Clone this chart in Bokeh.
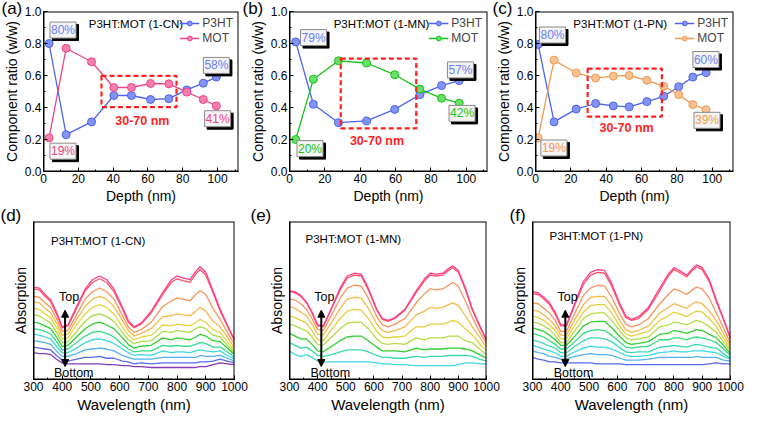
from bokeh.plotting import figure
from bokeh.layouts import column, row
from bokeh.models import (Label, BoxAnnotation, Arrow, NormalHead,
                          SingleIntervalTicker, FixedTicker, PrintfTickFormatter)
from bokeh.embed import file_html
from bokeh.resources import INLINE

FONT = "Liberation Sans"

# ---------------- composition profiles (a)-(c) ----------------
a_depth = [3.2, 13, 27.6, 40.4, 50.5, 61.5, 72, 82.3, 91.8, 99.3]
a_p3ht = [0.80, 0.23, 0.31, 0.475, 0.475, 0.45, 0.455, 0.51, 0.552, 0.59]
a_mot = [0.21, 0.77, 0.686, 0.525, 0.525, 0.55, 0.548, 0.496, 0.45, 0.41]

b_depth = [3.5, 13.5, 27.7, 43.6, 59.5, 73.7, 86, 96]
b_p3ht = [0.81, 0.42, 0.305, 0.316, 0.388, 0.48, 0.537, 0.568]
b_mot = [0.20, 0.577, 0.692, 0.678, 0.605, 0.515, 0.458, 0.427]

c_depth = [1.5, 10.5, 23, 34, 44, 53, 63, 72.5, 81, 89, 96.5]
c_p3ht = [0.794, 0.31, 0.39, 0.425, 0.41, 0.404, 0.437, 0.47, 0.53, 0.59, 0.618]
c_mot = [0.21, 0.696, 0.616, 0.584, 0.596, 0.60, 0.57, 0.533, 0.48, 0.418, 0.386]

series_names = ["P3HT", "MOT"]
titles = ["P3HT:MOT (1-CN)", "P3HT:MOT (1-MN)", "P3HT:MOT (1-PN)"]
window_text = "30-70 nm"

# ---------------- absorption spectra (d)-(f), top layer -> bottom layer ----------------
wl = [300, 320, 340, 360, 380, 400, 420, 450, 480, 505, 530, 555, 580, 610, 630,
      650, 675, 710, 750, 780, 800, 820, 845, 865, 880, 900, 925, 950, 975, 1000]

d1 = [100, 99, 92, 86, 73, 57, 59, 79, 98, 108, 112, 108, 98, 78, 64, 57, 61, 74, 94, 108, 112, 110, 108, 117, 122, 116, 96, 76, 59, 43]
d2 = [98, 97, 90, 84, 71, 56, 58, 77, 96, 105, 109, 105, 95, 76, 62, 56, 60, 72, 92, 105, 109, 107, 105, 114, 119, 113, 94, 74, 58, 42]
d3 = [90, 89, 83, 78, 66, 52, 53, 70, 87, 95, 99, 95, 87, 69, 57, 51, 54, 62, 79, 85, 88, 87, 85, 92, 96, 92, 77, 65, 51, 38]
d4 = [84, 83, 77, 72, 61, 48, 49, 65, 79, 87, 90, 87, 79, 64, 53, 47, 50, 55, 68, 69, 71, 70, 69, 74, 78, 74, 63, 57, 46, 34]
d5 = [77, 76, 71, 67, 56, 44, 45, 59, 71, 78, 81, 78, 71, 57, 48, 43, 46, 48, 59, 58, 60, 59, 58, 62, 65, 62, 54, 51, 41, 31]
d6 = [70, 69, 65, 61, 51, 40, 41, 52, 63, 69, 71, 68, 63, 51, 43, 39, 41, 42, 52, 51, 53, 52, 51, 55, 57, 55, 48, 46, 37, 29]
d7 = [62, 61, 58, 55, 46, 36, 37, 46, 55, 60, 62, 59, 55, 45, 38, 34, 36, 37, 45, 43, 45, 44, 43, 46, 49, 47, 42, 41, 34, 27]
d8 = [55, 54, 52, 49, 41, 32, 33, 40, 47, 51, 52, 50, 46, 38, 33, 30, 31, 31, 37, 36, 37, 36, 36, 38, 40, 39, 35, 35, 30, 24]
d9 = [49, 48, 46, 44, 36, 29, 29, 34, 40, 43, 44, 42, 39, 33, 29, 26, 27, 26, 31, 29, 30, 30, 29, 31, 32, 31, 30, 31, 26, 22]
d10 = [42, 41, 40, 38, 31, 25, 25, 28, 32, 33, 34, 33, 31, 26, 24, 22, 22, 22, 24, 24, 24, 24, 24, 24, 26, 25, 25, 26, 23, 20]
d11 = [35, 34, 33, 32, 26, 21, 20, 22, 24, 24, 25, 23, 23, 20, 19, 17, 18, 17, 18, 18, 18, 18, 18, 18, 19, 19, 20, 22, 20, 18]
d12 = [29, 28, 28, 27, 22, 18, 17, 17, 17, 17, 17, 16, 16, 15, 15, 14, 14, 13, 13, 13, 13, 13, 13, 13, 14, 14, 16, 18, 17, 16]

e1 = [96, 95, 91, 84, 73, 59, 58, 78, 99, 112, 115, 114, 99, 76, 66, 64, 67, 76, 96, 109, 115, 114, 115, 120, 123, 118, 99, 76, 59, 43]
e2 = [95, 94, 90, 83, 72, 58, 57, 77, 97, 110, 113, 112, 97, 75, 65, 63, 66, 75, 94, 107, 113, 112, 113, 118, 121, 116, 97, 75, 58, 42]
e3 = [87, 86, 82, 76, 66, 54, 53, 70, 88, 99, 102, 101, 88, 68, 59, 57, 60, 66, 83, 93, 98, 97, 98, 102, 105, 101, 85, 67, 52, 39]
e4 = [79, 77, 73, 69, 60, 49, 48, 62, 77, 87, 89, 88, 77, 60, 53, 51, 53, 57, 70, 74, 78, 77, 78, 81, 83, 80, 69, 57, 46, 35]
e5 = [69, 67, 64, 61, 53, 43, 42, 54, 66, 74, 76, 75, 66, 52, 46, 45, 46, 47, 57, 57, 60, 60, 60, 62, 64, 62, 55, 48, 39, 31]
e6 = [60, 58, 55, 53, 46, 38, 37, 46, 55, 61, 62, 62, 55, 44, 39, 38, 39, 38, 45, 43, 45, 45, 45, 47, 47, 47, 42, 40, 33, 27]
e7 = [50, 47, 44, 44, 38, 31, 30, 36, 42, 46, 47, 47, 42, 35, 31, 31, 31, 30, 34, 32, 33, 33, 33, 34, 34, 34, 33, 31, 27, 23]
e8 = [40, 37, 34, 35, 31, 26, 25, 27, 30, 32, 32, 32, 30, 26, 24, 24, 23, 23, 25, 24, 25, 25, 25, 26, 26, 26, 26, 25, 22, 20]
e9 = [31, 27, 25, 27, 24, 20, 19, 19, 19, 19, 19, 19, 19, 18, 17, 17, 16, 16, 15, 15, 15, 15, 15, 15, 15, 16, 18, 18, 17, 17]

f1 = [95, 94, 89, 83, 73, 59, 59, 83, 106, 116, 119, 118, 104, 81, 69, 65, 68, 78, 99, 114, 121, 118, 113, 120, 124, 121, 108, 86, 66, 45]
f2 = [93, 92, 87, 81, 71, 58, 58, 81, 103, 113, 116, 115, 101, 79, 67, 64, 66, 76, 96, 112, 119, 116, 111, 118, 122, 119, 106, 84, 65, 44]
f3 = [83, 82, 77, 72, 64, 52, 52, 72, 91, 99, 102, 101, 89, 70, 60, 57, 59, 66, 82, 92, 98, 96, 92, 97, 100, 98, 88, 72, 56, 39]
f4 = [75, 74, 70, 65, 58, 48, 48, 65, 81, 89, 90, 90, 80, 63, 54, 51, 53, 58, 72, 78, 82, 80, 77, 82, 84, 82, 74, 64, 50, 36]
f5 = [69, 67, 64, 59, 53, 44, 44, 59, 73, 80, 81, 81, 72, 57, 49, 47, 49, 52, 64, 69, 73, 71, 68, 72, 74, 73, 66, 57, 45, 33]
f6 = [62, 61, 58, 54, 48, 40, 40, 53, 66, 71, 72, 72, 64, 52, 45, 43, 44, 46, 57, 59, 62, 61, 59, 62, 64, 62, 57, 51, 41, 31]
f7 = [56, 54, 52, 48, 43, 37, 37, 47, 58, 62, 63, 63, 56, 46, 40, 38, 39, 41, 49, 50, 53, 52, 50, 52, 54, 53, 49, 45, 37, 28]
f8 = [50, 48, 46, 42, 38, 33, 33, 41, 50, 53, 54, 53, 48, 40, 35, 34, 35, 36, 43, 43, 45, 45, 43, 45, 46, 45, 43, 40, 33, 26]
f9 = [43, 41, 39, 36, 34, 29, 29, 36, 42, 45, 45, 44, 41, 34, 30, 29, 30, 30, 35, 36, 37, 36, 35, 37, 38, 37, 35, 34, 28, 23]
f10 = [37, 35, 33, 31, 29, 25, 25, 30, 34, 36, 35, 35, 33, 29, 26, 25, 25, 26, 29, 30, 31, 30, 30, 31, 31, 31, 30, 29, 25, 22]
f11 = [31, 29, 28, 25, 24, 22, 22, 25, 27, 28, 27, 27, 26, 23, 21, 21, 21, 22, 24, 24, 24, 24, 24, 24, 25, 24, 24, 24, 21, 20]
f12 = [24, 22, 21, 19, 19, 18, 18, 18, 18, 18, 17, 17, 17, 17, 16, 16, 16, 16, 16, 16, 16, 16, 16, 16, 16, 16, 17, 18, 17, 17]

# ---------------- colours ----------------
BLUE, BLUE_FILL, BLUE_TXT = "#4d62ee", "#8494f6", "#6a7ff5"
PINK, PINK_FILL = "#f0458a", "#f67fae"
GREEN, GREEN_FILL = "#19c219", "#66e066"
ORANGE, ORANGE_FILL = "#f39a52", "#f8c292"
RED = "#ff1f1f"

d_colors = ["#ff3d8a", "#ff5468", "#f7955c", "#f5b84a", "#e2d640", "#a8dd48",
            "#2fd02f", "#35dc8a", "#3ed8d8", "#55b0f0", "#5a6ae8", "#8a3ab8"]
e_colors = ["#ff3d8a", "#ff5468", "#f7955c", "#f5b84a", "#e6cf3c", "#b4dc48",
            "#2fd02f", "#38dba8", "#3ed8e6"]
f_colors = ["#ff3d8a", "#ff5468", "#f7955c", "#f5b84a", "#e6cf3c", "#b4dc48",
            "#2fd02f", "#35dc7a", "#38dbb0", "#3ed8e6", "#55b0f0", "#5a6ae8"]


def style_axis(ax, label_size, label_standoff=2):
    ax.axis_line_color = "black"
    ax.major_tick_line_color = "black"
    ax.minor_tick_line_color = "black"
    ax.major_tick_in = 4
    ax.major_tick_out = 0
    ax.minor_tick_in = 2
    ax.minor_tick_out = 0
    ax.major_label_text_font = FONT
    ax.major_label_text_font_size = "12px"
    ax.major_label_text_color = "black"
    ax.major_label_standoff = 2
    ax.axis_label_text_font = FONT
    ax.axis_label_text_font_size = label_size
    ax.axis_label_text_font_style = "normal"
    ax.axis_label_text_color = "black"
    ax.axis_label_standoff = label_standoff


def panel_letter(p, letter, offset, standoff):
    p.title.text = letter
    p.title.align = "left"
    p.title.offset = offset
    p.title.standoff = standoff
    p.title.text_font = FONT
    p.title.text_font_size = "17px"
    p.title.text_font_style = "normal"
    p.title.text_color = "black"


def frame_box(p):
    p.add_layout(BoxAnnotation(fill_alpha=0, line_color="black", line_width=2,
                               line_alpha=1, level="overlay"))


def pct_label(p, x, y, text, color):
    p.add_layout(Label(x=x, y=y, text=text, x_offset=2.5, y_offset=-2.5,
                       text_font=FONT, text_font_size="12px", text_color="black",
                       text_align="center", text_baseline="middle",
                       background_fill_color="black", border_line_color="black",
                       padding=1))
    p.add_layout(Label(x=x, y=y, text=text,
                       text_font=FONT, text_font_size="12px", text_color=color,
                       text_align="center", text_baseline="middle",
                       background_fill_color="#f4f4f4", border_line_color="#8a8a8a",
                       padding=1))


def comp_panel(width, left, right, letter, title, title_x, depth, p3ht, mot,
               mot_line, mot_fill, box, note_xy, pcts):
    p = figure(width=width, height=206, x_range=(0, 112), y_range=(0, 1),
               output_backend="svg", toolbar_location=None,
               min_border_left=left, min_border_right=right,
               min_border_top=11, min_border_bottom=35)
    panel_letter(p, letter, -left, -13)
    p.grid.visible = False
    p.outline_line_color = None
    p.xaxis.ticker = SingleIntervalTicker(interval=20, num_minor_ticks=2)
    p.yaxis.ticker = SingleIntervalTicker(interval=0.2, num_minor_ticks=2)
    p.yaxis.formatter = PrintfTickFormatter(format="%.1f")
    p.xaxis.axis_label = "Depth (nm)"
    p.yaxis.axis_label = "Component ratio (w/w)"
    style_axis(p.xaxis[0], "14px")
    style_axis(p.yaxis[0], "14px")
    frame_box(p)

    l, r, b, t = box
    p.add_layout(BoxAnnotation(left=l, right=r, bottom=b, top=t, fill_alpha=0,
                               line_color=RED, line_width=2.2, line_dash="5 3",
                               line_alpha=1))
    p.add_layout(Label(x=note_xy[0], y=note_xy[1], text=window_text, text_font=FONT,
                       text_font_size="12.5px", text_font_style="bold", text_color=RED,
                       text_align="center", text_baseline="middle"))

    p.line(depth, p3ht, line_color=BLUE, line_width=1.3, legend_label=series_names[0])
    p.scatter(depth, p3ht, size=8, fill_color=BLUE_FILL, line_color=BLUE,
              legend_label=series_names[0])
    p.line(depth, mot, line_color=mot_line, line_width=1.3, legend_label=series_names[1])
    p.scatter(depth, mot, size=8, fill_color=mot_fill, line_color=mot_line,
              legend_label=series_names[1])

    lg = p.legend[0]
    lg.location = "top_right"
    lg.background_fill_alpha = 0
    lg.border_line_alpha = 0
    lg.label_text_font = FONT
    lg.label_text_font_size = "12px"
    lg.glyph_width = 20
    lg.glyph_height = 12
    lg.label_height = 14
    lg.label_standoff = 3
    lg.spacing = 1
    lg.padding = 2
    lg.margin = 3

    p.add_layout(Label(x=title_x, y=0.925, text=title, text_font=FONT,
                       text_font_size="11.5px", text_color="black",
                       text_align="left", text_baseline="middle"))
    for (x, y, txt, col) in pcts:
        pct_label(p, x, y, txt, col)
    return p


def spec_panel(width, left, right, letter, letter_off, title, title_x, title_y, curves,
               colors, arrow_x, top_x, bottom_x):
    p = figure(width=width, height=209, x_range=(300, 1000), y_range=(0, 171),
               output_backend="svg", toolbar_location=None,
               min_border_left=left, min_border_right=right,
               min_border_top=15, min_border_bottom=35)
    panel_letter(p, letter, letter_off, -6)
    p.grid.visible = False
    p.outline_line_color = None
    p.xaxis.ticker = SingleIntervalTicker(interval=100, num_minor_ticks=2)
    p.yaxis.ticker = FixedTicker(ticks=[], minor_ticks=[])
    p.xaxis.axis_label = "Wavelength (nm)"
    p.yaxis.axis_label = "Absorption"
    style_axis(p.xaxis[0], "15px")
    style_axis(p.yaxis[0], "14px", label_standoff=5)
    frame_box(p)

    for c, col in reversed(list(zip(curves, colors))):
        p.line(wl, c, line_color=col, line_width=1.3)

    p.add_layout(Arrow(x_start=arrow_x, y_start=14, x_end=arrow_x, y_end=75,
                       line_width=2, line_color="black",
                       start=NormalHead(size=7, fill_color="black", line_color="black"),
                       end=NormalHead(size=7, fill_color="black", line_color="black")))
    p.add_layout(Label(x=top_x, y=89, text="Top", text_font=FONT, text_font_size="12.5px",
                       text_color="black", text_align="center", text_baseline="middle"))
    p.add_layout(Label(x=bottom_x, y=7, text="Bottom", text_font=FONT,
                       text_font_size="12.5px", text_color="black",
                       text_align="center", text_baseline="middle"))
    p.add_layout(Label(x=title_x, y=title_y, text=title, text_font=FONT,
                       text_font_size="11.5px", text_color="black",
                       text_align="left", text_baseline="middle"))
    return p


pa = comp_panel(242, 42, 4, "(a)", titles[0], 26, a_depth, a_p3ht, a_mot,
                PINK, PINK_FILL, (33.3, 76.4, 0.402, 0.598), (56.8, 0.314),
                [(11.2, 0.884, "80%", BLUE_TXT), (11.2, 0.127, "19%", PINK),
                 (99.3, 0.663, "58%", BLUE_TXT), (100, 0.33, "41%", PINK)])
pb = comp_panel(250, 47, 5, "(b)", titles[1], 25, b_depth, b_p3ht, b_mot,
                GREEN, GREEN_FILL, (29, 71.7, 0.269, 0.706), (49.5, 0.19),
                [(13.6, 0.837, "79%", BLUE_TXT), (11.6, 0.143, "20%", GREEN),
                 (96.7, 0.635, "57%", BLUE_TXT), (97.6, 0.363, "42%", GREEN)])
pc = comp_panel(252, 43, 11, "(c)", titles[2], 21.4, c_depth, c_p3ht, c_mot,
                ORANGE, ORANGE_FILL, (29.5, 71.5, 0.343, 0.643), (51.5, 0.27),
                [(9.6, 0.853, "80%", BLUE_TXT), (10.4, 0.147, "19%", ORANGE),
                 (96.4, 0.70, "60%", BLUE_TXT), (97, 0.32, "39%", ORANGE)])

pd = spec_panel(250, 33, 16, "(d)", -33, titles[0], 361, 150,
                [d1, d2, d3, d4, d5, d6, d7, d8, d9, d10, d11, d12], d_colors,
                410, 424, 440)
pe = spec_panel(250, 39, 14, "(e)", -39, titles[1], 357, 152,
                [e1, e2, e3, e4, e5, e6, e7, e8, e9], e_colors,
                413, 424, 445)
pf = spec_panel(244, 32, 14, "(f)", -23, titles[2], 360, 155,
                [f1, f2, f3, f4, f5, f6, f7, f8, f9, f10, f11, f12], f_colors,
                416, 424, 445)

layout = column(row(pa, pb, pc, spacing=0), row(pd, pe, pf, spacing=0), spacing=0)

open("out.html", "w").write(file_html(layout, INLINE))
